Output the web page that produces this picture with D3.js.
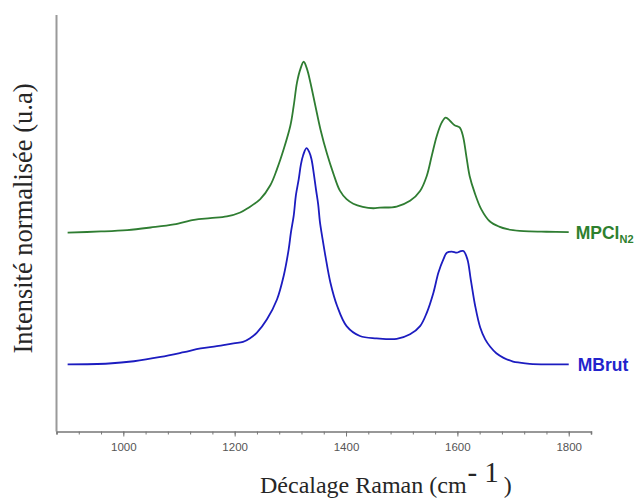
<!DOCTYPE html>
<html>
<head>
<meta charset="utf-8">
<script src="https://cdn.jsdelivr.net/npm/d3@7"></script>
<style>
  html, body { margin: 0; padding: 0; background: #fff; }
  svg { display: block; }
</style>
</head>
<body>
<svg id="chart" width="638" height="499"></svg>
<script>
// Raman shift (cm-1) sample points
const waveMPCl = [900,960,1007,1049,1091,1127,1156,1186,1210,1225,1246,1264,1276,1288,1300,1306,1312,1318,1324,1330,1336,1345,1354,1366,1377,1389,1401,1413,1430,1449,1461,1491,1515,1533,1545,1554,1563,1572,1579,1587,1595,1604,1610,1616,1622,1631,1643,1658,1675,1690,1712,1730,1760,1800];
const intMPCl  = [0.702,0.706,0.711,0.720,0.731,0.747,0.753,0.759,0.773,0.790,0.820,0.869,0.926,0.996,1.079,1.149,1.232,1.279,1.305,1.279,1.232,1.149,1.067,0.979,0.912,0.850,0.820,0.804,0.793,0.788,0.790,0.794,0.814,0.849,0.902,0.973,1.043,1.091,1.108,1.096,1.081,1.073,1.043,0.973,0.902,0.843,0.784,0.742,0.723,0.714,0.708,0.706,0.705,0.704];

const waveMBrut = [900,974,1019,1067,1109,1139,1168,1198,1215,1227,1240,1258,1276,1288,1297,1301,1306,1310,1315,1319,1323,1329,1334,1338,1342,1346,1350,1353,1358,1363,1372,1384,1401,1425,1455,1491,1515,1533,1545,1557,1566,1575,1581,1590,1599,1605,1611,1618,1624,1632,1641,1650,1659,1670,1683,1700,1712,1730,1760,1800];
const intMBrut  = [0.237,0.240,0.248,0.263,0.280,0.293,0.301,0.311,0.316,0.328,0.349,0.396,0.466,0.549,0.643,0.702,0.761,0.834,0.890,0.943,0.975,1.000,0.986,0.961,0.912,0.855,0.802,0.742,0.678,0.619,0.525,0.443,0.372,0.337,0.329,0.327,0.343,0.372,0.419,0.490,0.561,0.608,0.631,0.635,0.631,0.636,0.637,0.608,0.537,0.443,0.367,0.325,0.299,0.276,0.260,0.247,0.243,0.239,0.237,0.237];

const xDomain = [880, 1840];
const yDomain = [0, 1.47];
const majorTicks = [1000, 1200, 1400, 1600, 1800];
const minorStep = 40;

const seriesNames = ["MPCl", "MBrut"];
const seriesColors = ["#2f7d32", "#1c1cc0"];
const labelColors = ["#2e802e", "#2323cc"];

const svg = d3.select("#chart");
const mLeft = 56.5, mRight = 591, mTop = 15, mBottom = 431.5;

const x = d3.scaleLinear().domain(xDomain).range([mLeft, mRight]);
const y = d3.scaleLinear().domain(yDomain).range([mBottom, mTop]);

// left axis (no ticks)
svg.append("line")
  .attr("x1", mLeft).attr("x2", mLeft)
  .attr("y1", mTop).attr("y2", mBottom)
  .attr("stroke", "#9a9a9a").attr("stroke-width", 2);

// bottom axis - minor ticks
const minorTicks = d3.range(xDomain[0], xDomain[1] + 1, minorStep);
const minorAxis = d3.axisBottom(x).tickValues(minorTicks).tickSize(3).tickFormat("");
const gMinor = svg.append("g").attr("transform", `translate(0,${mBottom})`).call(minorAxis);
gMinor.select(".domain").attr("stroke", "#777").attr("stroke-width", 1.6);
gMinor.selectAll(".tick line").attr("stroke", "#777").attr("stroke-width", 1);

const majorAxis = d3.axisBottom(x).tickValues(majorTicks).tickSize(5).tickPadding(6).tickFormat(d3.format("d"));
const gMajor = svg.append("g").attr("transform", `translate(0,${mBottom})`).call(majorAxis);
gMajor.select(".domain").remove();
gMajor.selectAll(".tick line").attr("stroke", "#777").attr("stroke-width", 1);
gMajor.selectAll(".tick text")
  .attr("fill", "#555")
  .style("font-family", "'Liberation Sans', Arial, sans-serif")
  .style("font-size", "11.5px");

// lines
const line = d3.line().x(d => x(d[0])).y(d => y(d[1])).curve(d3.curveCatmullRom.alpha(0.5));
const dataMPCl = waveMPCl.map((w, i) => [w, intMPCl[i]]);
const dataMBrut = waveMBrut.map((w, i) => [w, intMBrut[i]]);
[dataMPCl, dataMBrut].forEach((data, i) => {
  svg.append("path")
    .datum(data)
    .attr("fill", "none")
    .attr("stroke", seriesColors[i])
    .attr("stroke-width", 1.8)
    .attr("stroke-linejoin", "round")
    .attr("d", line);
});

// series labels
const lastG = dataMPCl[dataMPCl.length - 1];
const lblG = svg.append("text")
  .attr("x", x(lastG[0]) + 7)
  .attr("y", y(lastG[1]) + 6.5)
  .attr("fill", labelColors[0])
  .style("font-family", "'Liberation Sans', Arial, sans-serif")
  .style("font-weight", "bold")
  .style("font-size", "17.5px");
lblG.append("tspan").text("MPCl");
lblG.append("tspan").attr("dy", 4).style("font-size", "11px").text("N2");

const lastB = dataMBrut[dataMBrut.length - 1];
svg.append("text")
  .attr("x", x(lastB[0]) + 9)
  .attr("y", y(lastB[1]) + 6.5)
  .attr("fill", labelColors[1])
  .style("font-family", "'Liberation Sans', Arial, sans-serif")
  .style("font-weight", "bold")
  .style("font-size", "17.5px")
  .text(seriesNames[1]);

// x title
const xt = svg.append("text")
  .attr("x", 260).attr("y", 493)
  .attr("fill", "#262626")
  .style("font-family", "'Liberation Serif', 'Times New Roman', serif")
  .style("font-size", "24px");
xt.append("tspan").text("Décalage Raman (cm");
xt.append("tspan").attr("dy", -11).attr("dx", 1).style("font-size", "29px").text("-");
xt.append("tspan").attr("dx", 7).style("font-size", "29px").text("1");
xt.append("tspan").attr("dy", 11).attr("dx", 5).text(")");

// y title
svg.append("text")
  .attr("transform", "translate(32,218.5) rotate(-90)")
  .attr("text-anchor", "middle")
  .attr("fill", "#262626")
  .style("font-family", "'Liberation Serif', 'Times New Roman', serif")
  .style("font-size", "26.5px")
  .text("Intensité normalisée (u.a)");
</script>
</body>
</html>
